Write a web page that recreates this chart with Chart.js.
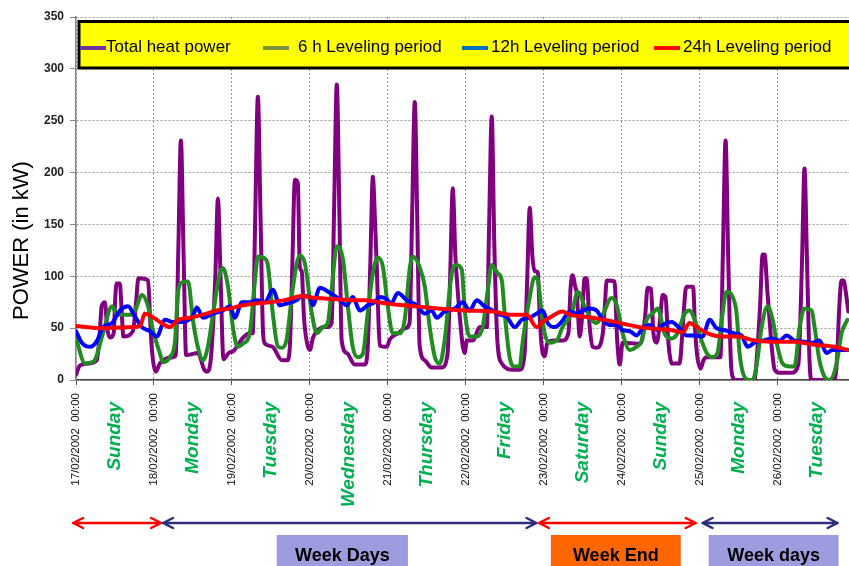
<!DOCTYPE html>
<html lang="en">
<head>
<meta charset="UTF-8">
<title>Total heat power and leveling periods</title>
<script src="https://cdn.jsdelivr.net/npm/chart.js@4"></script>
<style>
  html, body { margin: 0; padding: 0; background: #fff; }
  #wrap { width: 849px; height: 566px; position: relative; }
</style>
</head>
<body>
<div id="wrap"><canvas id="powerChart" width="849" height="566"></canvas></div>
<script>
// hours counted from 17/02/2002 00:00, power in kW
const powerHours = [
  0,1.2,4,6.4,7.3,7.9,8.9,9.6,10.5,11.6,12.1,12.5,13.5,14,14.6,17.5,18.5,19.2,22.2,22.8,23.3,24.6,
  25.8,29.9,30.7,31.5,32.3,33.1,33.9,37.5,39.5,40.3,41.5,42.9,43.7,44.5,45.4,47,48.5,51.5,53.5,
  54.4,55.2,56,56.8,57.6,58.2,60.5,63.4,65,65.8,66.6,67.4,68.3,68.9,69.5,70.2,71.1,72,
  73,76.6,77.5,78.7,79.5,80.3,81.1,81.8,83.4,85.8,88.9,89.8,90.6,91.4,92.1,92.6,93.1,93.5,95.7,
  96.6,99.1,101.5,102.7,103.5,104.3,105.1,105.8,107.4,109.5,112.6,114.4,115.2,116,116.8,117.2,118.2,119.1,119.7,
  120.3,122.2,124.3,126.5,127.2,128,128.8,129.7,131.1,134.5,136.6,138.1,138.9,139.7,140.5,141.2,142.2,142.8,143.4,
  144.3,145.2,148,149.8,151.6,152.3,152.9,153.7,154.2,155.1,155.8,156.6,157.2,158.2,159.1,160.3,162.2,162.8,163.4,165.8,166.6,167.4,
  168.3,173.8,175.2,176,177,177.8,178.8,179.9,180.6,181.5,182.3,182.8,183.4,185.8,186.8,187.6,188,190,190.6,191.2,192.3,
  193.2,194.2,198.4,199.2,200,200.8,201.6,202.3,202.8,208.9,209.7,210.6,211.4,212,212.9,213.5,214.2,215.1,216.6,
  220.3,222.4,223.5,224.3,225.1,225.9,226.5,233.5,234.3,235,235.7,236.3,237,237.8
];
const powerValues = [
  5,14,16,19,45,71,75,50,41,45,80,93,93,70,42,47,75,98,96,60,32,8,
  16,22,24,125,231,125,24,26,10,8,20,100,175,100,20,26,28,41,45,
  45,160,273,160,45,35,32,19,19,30,110,193,190,109,105,60,36,29,
  41,51,51,55,170,285,160,38,26,15,15,30,110,196,150,110,60,33,32,
  39,45,50,55,160,268,150,33,19,12,12,25,100,185,120,100,60,32,26,
  38,38,51,51,150,254,130,40,16,10,10,25,95,166,120,105,104,60,32,
  23,37,38,38,45,90,101,90,83,42,60,98,98,50,32,31,45,70,96,95,40,15,
  36,35,60,89,88,45,36,60,82,80,40,24,16,16,50,85,90,90,50,25,11,
  19,22,22,126,231,120,20,2,0,0,25,70,121,121,84,60,32,10,7,
  7,15,110,204,110,15,0,0,20,70,96,96,85,66
];

const level6Hours = [
  0,2.8,5.5,8.3,11.1,12.6,13.5,17.2,18.2,20.3,22.2,23.7,25.8,26.8,28.9,30.5,31.4,32.6,34.5,36,
  37.5,39.1,40.6,42.2,44.3,45.2,46.8,48.3,49.8,51.4,53.5,55.1,56,58.2,59.1,60.6,62.2,63.4,64.9,66.8,
  68.9,70.5,72.6,74.2,76,77.5,78.8,80.3,82.2,83.7,85.2,86.8,88.3,89.8,91.4,92.9,94.5,96,97.5,99.7,
  101.2,102.8,103.7,105.8,107.4,108.9,110.5,112,113.5,115.7,117.2,118.8,119.7,121.2,123.4,125.2,126.8,128,129.8,131.1,
  132,133.5,135.1,136.6,137.5,139.7,141.2,142.2,143.4,144.3,145.8,148,149.8,152.6,154.5,156.6,158.8,160.3,162.2,164.9,
  166.5,168.3,170.5,172.6,174.2,175.7,177.5,179.1,181.2,183.4,185.2,187.4,188.9,190.5,192.6,194.2,195.7,197.5,198.8,200.3,
  202.2,203.4,204.3,205.8,207.4,208.3,209.5,211.1,212.9,214.5,216,217.5,219.7,221.2,222.8,224.3,226.5,227.4,228.9,230.5,
  232,234.2,235.7,237.5
];
const level6Values = [
  40,16,18,45,71,63,63,63,67,82,71,48,26,17,22,38,84,94,95,58,
  32,19,32,64,103,108,90,51,32,35,45,96,119,117,110,64,32,31,40,90,
  120,112,64,45,51,55,90,129,116,71,32,22,25,64,103,118,109,71,45,45,
  58,109,119,109,90,51,22,16,38,103,111,106,67,42,42,51,87,111,103,96,
  64,22,13,13,36,80,99,96,64,45,36,38,51,64,85,71,58,55,63,79,
  72,45,29,32,38,58,64,69,45,40,45,64,67,58,38,26,22,26,58,85,
  80,64,26,3,0,0,13,51,71,58,32,16,13,13,51,69,67,51,19,3,
  0,16,45,58
];

const level12Hours = [
  0,1.8,4.3,6.5,8.3,11.1,13.5,16,18.2,20.3,22.8,24.9,27.4,29.8,32.9,36,37.2,39.1,42.2,45.2,
  47.4,48.9,51.1,53.5,55.7,58.2,60.6,62.8,65.2,68,69.5,72,72.9,75.1,78.2,80.6,83.4,85.2,87.4,89.8,
  92,93.5,96,96.9,99.1,101.8,104.9,107.4,109.5,111.1,113.5,116.6,119.1,121.2,123.4,125.8,128.3,130.5,132.6,135.1,
  137.2,139.7,141.8,143.7,145.2,147.4,149.5,152,154.2,156,158.2,160.3,162.2,164.3,166.5,168.3,170.5,172.6,174.5,176.6,
  179.1,180.6,183.4,185.8,188,190.5,192.9,195.1,197.2,199.7,202.8,204.9,206.8,208.9,211.4,214.5,216.6,218.8,221.2,224.3,
  226.8,228.9,231.1,232.9,235.7,237.8
];
const level12Values = [
  47,36,32,38,51,55,67,71,61,51,47,42,58,56,56,62,70,60,64,67,
  71,60,75,75,77,75,87,72,74,77,81,80,72,89,84,79,72,80,67,72,
  75,80,77,73,84,77,72,64,67,60,66,69,75,67,77,71,67,63,61,51,
  58,60,64,67,55,51,56,66,64,67,69,67,58,53,53,48,47,43,50,53,
  48,53,56,50,43,43,42,58,50,48,45,43,32,36,38,40,38,43,38,37,
  36,38,26,29,29,29
];

const level24Hours = [
  0,8.3,17.5,19.7,21.2,23.4,25.8,28.9,31.4,35.1,39.1,43.4,47.4,51.4,55.7,59.7,64.3,69.8,71.4,78.8,
  84.9,88.9,95.1,104.3,111.4,119.7,128.3,133.5,138.8,141.8,143.7,145.8,149.8,152,159.1,167.4,173.5,179.7,183.4,186.8,
  188.9,191.1,194.5,198.8,203.7,208.9,214.2,221.2,227.4,233.5,237.8
];
const level24Values = [
  52,50,51,52,64,61,56,51,58,60,63,67,69,72,74,75,77,81,80,78,
  77,77,74,71,69,67,66,63,63,51,56,60,66,63,60,55,51,49,48,46,
  55,51,45,42,42,38,37,37,34,32,29
];

const dateLabels = [
  '17/02/2002  00:00', '18/02/2002  00:00', '19/02/2002  00:00', '20/02/2002  00:00', '21/02/2002  00:00',
  '22/02/2002  00:00', '23/02/2002  00:00', '24/02/2002  00:00', '25/02/2002  00:00', '26/02/2002  00:00'
];
const dayNames = ['Sunday', 'Monday', 'Tuesday', 'Wednesday', 'Thursday', 'Friday', 'Saturday', 'Sunday', 'Monday', 'Tuesday'];

// arrows under the axis, in hours
const periodArrows = [
  { from: -0.9, to: 26.2, color: '#FF0000' },
  { from: 26.8, to: 141.8, color: '#2E2F7C' },
  { from: 142.5, to: 190.8, color: '#FF0000' },
  { from: 192.9, to: 234.5, color: '#2E2F7C' }
];
const periodTags = [
  { text: 'Week Days', from: 61.8, to: 102.2, fill: '#9C9CDE' },
  { text: 'Week End', from: 146.2, to: 186.2, fill: '#FF6600' },
  { text: 'Week days', from: 194.8, to: 234.8, fill: '#9C9CDE' }
];

const FONT = '"Liberation Sans", Arial, sans-serif';
const toPoints = (hours, values) => hours.map((h, i) => ({ x: h, y: values[i] }));

const legendSampleX = [80, 263, 462, 654];
const legendTextX = [106, 298, 491, 683];

const decorations = {
  id: 'decorations',
  afterDatasetsDraw(chart) {
    const ctx = chart.ctx;
    ctx.save();
    // yellow legend panel across the top of the plot
    ctx.fillStyle = '#FFFF00';
    ctx.fillRect(79, 21.5, 800, 46.5);
    ctx.strokeStyle = '#000';
    ctx.lineWidth = 3;
    ctx.strokeRect(79, 21.5, 800, 46.5);
    ctx.font = '17px ' + FONT;
    ctx.textBaseline = 'alphabetic';
    ctx.textAlign = 'left';
    chart.data.datasets.forEach((ds, i) => {
      ctx.strokeStyle = ds.legendColor;
      ctx.lineWidth = 4;
      ctx.beginPath();
      ctx.moveTo(legendSampleX[i], 48);
      ctx.lineTo(legendSampleX[i] + 26, 48);
      ctx.stroke();
      ctx.fillStyle = '#000';
      ctx.fillText(ds.label, legendTextX[i], 52);
    });
    ctx.restore();
  },
  afterDraw(chart) {
    const ctx = chart.ctx;
    const x = chart.scales.x;
    ctx.save();

    // y axis title
    ctx.save();
    ctx.translate(22, 320);
    ctx.rotate(-Math.PI / 2);
    ctx.font = '22px ' + FONT;
    ctx.fillStyle = '#000';
    ctx.textAlign = 'left';
    ctx.textBaseline = 'middle';
    ctx.fillText('POWER (in kW)', 0, 0);
    ctx.restore();

    // day names at midday
    ctx.font = 'italic bold 19px ' + FONT;
    ctx.fillStyle = '#00B050';
    dayNames.forEach((name, d) => {
      ctx.save();
      ctx.translate(x.getPixelForValue(d * 24 + 12), 402);
      ctx.rotate(-Math.PI / 2);
      ctx.textAlign = 'right';
      ctx.textBaseline = 'middle';
      ctx.fillText(name, 0, 0);
      ctx.restore();
    });

    // double headed arrows
    const ay = 523;
    periodArrows.forEach(a => {
      const x1 = x.getPixelForValue(a.from);
      const x2 = x.getPixelForValue(a.to);
      ctx.strokeStyle = a.color;
      ctx.lineWidth = 2.5;
      ctx.lineCap = 'round';
      ctx.lineJoin = 'round';
      ctx.beginPath();
      ctx.moveTo(x1, ay);
      ctx.lineTo(x2, ay);
      ctx.moveTo(x1 + 10, ay - 5);
      ctx.lineTo(x1, ay);
      ctx.lineTo(x1 + 10, ay + 5);
      ctx.moveTo(x2 - 10, ay - 5);
      ctx.lineTo(x2, ay);
      ctx.lineTo(x2 - 10, ay + 5);
      ctx.stroke();
    });

    // period tags
    ctx.font = 'bold 18px ' + FONT;
    ctx.textAlign = 'center';
    ctx.textBaseline = 'alphabetic';
    periodTags.forEach(t => {
      const x1 = x.getPixelForValue(t.from);
      const x2 = x.getPixelForValue(t.to);
      ctx.fillStyle = t.fill;
      ctx.fillRect(x1, 535, x2 - x1, 40);
      ctx.fillStyle = '#000';
      ctx.fillText(t.text, (x1 + x2) / 2, 561);
    });
    ctx.restore();
  }
};

const ctx = document.getElementById('powerChart').getContext('2d');
const chart = new Chart(ctx, {
  type: 'line',
  data: {
    datasets: [
      { label: 'Total heat power', data: toPoints(powerHours, powerValues), borderColor: '#800080', legendColor: '#7030A0', order: 4 },
      { label: '6 h Leveling period', data: toPoints(level6Hours, level6Values), borderColor: '#228B22', legendColor: '#77933C', order: 3 },
      { label: '12h Leveling period', data: toPoints(level12Hours, level12Values), borderColor: '#0000FF', legendColor: '#0070C0', order: 2 },
      { label: '24h Leveling period', data: toPoints(level24Hours, level24Values), borderColor: '#FF0000', legendColor: '#FF0000', order: 1 }
    ]
  },
  options: {
    responsive: false,
    animation: false,
    layout: { padding: { top: 17, right: 0, bottom: 0, left: 0 } },
    elements: {
      point: { radius: 0 },
      line: { borderWidth: 4, cubicInterpolationMode: 'monotone', borderJoinStyle: 'round', borderCapStyle: 'round', fill: false }
    },
    plugins: { legend: { display: false }, tooltip: { enabled: false } },
    scales: {
      x: {
        type: 'linear',
        min: 0,
        max: 238,
        afterFit: s => { s.height = 186; },
        grid: { color: '#9a9a9a', lineWidth: 1, tickLength: 5, tickColor: '#555' },
        border: { display: true, color: '#444', width: 1.5, dash: [2, 2] },
        ticks: {
          stepSize: 24,
          includeBounds: false,
          autoSkip: false,
          minRotation: 90,
          maxRotation: 90,
          padding: 8,
          color: '#111',
          font: { family: FONT, size: 11.5 },
          callback: v => dateLabels[v / 24] ?? ''
        }
      },
      y: {
        min: 0,
        max: 350,
        afterFit: s => { s.width = 76; },
        grid: { color: '#9a9a9a', lineWidth: 1, tickLength: 6, tickColor: '#888' },
        border: { display: true, color: '#888', width: 1.5, dash: [2, 2] },
        ticks: {
          stepSize: 50,
          padding: 6,
          color: '#222',
          font: { family: FONT, size: 12, weight: 'bold' }
        }
      }
    }
  },
  plugins: [decorations]
});
</script>
</body>
</html>
